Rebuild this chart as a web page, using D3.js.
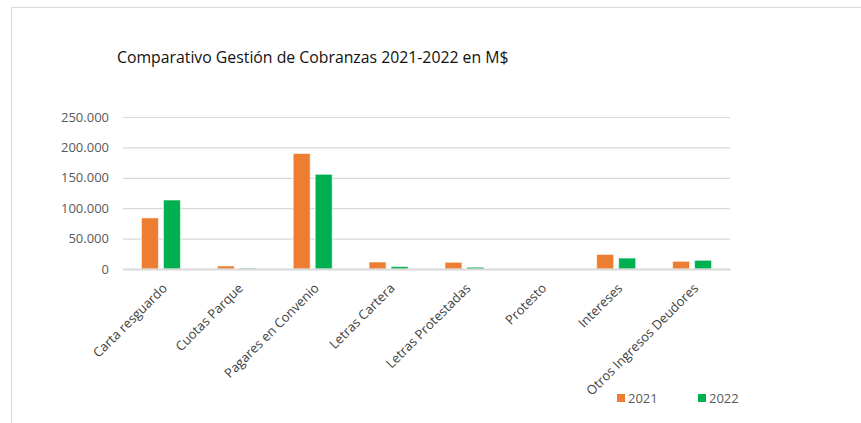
<!DOCTYPE html>
<html><head><meta charset="utf-8">
<script src="https://cdn.jsdelivr.net/npm/d3@7"></script>
<style>body{margin:0;background:#fff}svg{display:block;font-family:"Open Sans",sans-serif}</style>
</head><body><svg id="c" width="861" height="423"></svg>
<script>
const categories = ["Carta resguardo","Cuotas Parque","Pagares en Convenio","Letras Cartera","Letras Protestadas","Protesto","Intereses","Otros Ingresos Deudores"];
const series = ["2021","2022"];
const values2021 = [84000, 5000, 190000, 11500, 11000, 0, 24000, 12700];
const values2022 = [113500, 1500, 155800, 4000, 3000, 0, 18000, 14300];
const yTicks = [0, 50000, 100000, 150000, 200000, 250000];
const colors = ["#ED7D31", "#00B050"];
const title = "Comparativo Gestión de Cobranzas 2021-2022 en M$";

(function(){
const svg = d3.select("#c");
svg.append("path").attr("d","M11.5,423 V7.5 H861").attr("fill","none").attr("stroke","#d9d9d9").attr("stroke-width",1);

const mLeft = 123, mRight = 730, mTop = 117, mBottom = 269;
const x0 = d3.scaleBand().domain(categories).range([mLeft, mRight]);
const inner = 39;
const x1 = d3.scaleBand().domain(series).range([(x0.bandwidth()-inner)/2, (x0.bandwidth()+inner)/2]).paddingInner(5/22);
const y = d3.scaleLinear().domain([0, 250000]).range([mBottom, mTop]);
const fmt = v => d3.format(",")(v).replace(/,/g, ".");

svg.append("text").attr("x",117).attr("y",63).attr("font-size",15.8).attr("fill","#111").text(title);

const yAxis = svg.append("g").attr("transform",`translate(${mLeft},0)`)
  .call(d3.axisLeft(y).tickValues(yTicks).tickFormat(fmt).tickSize(-(mRight-mLeft)).tickPadding(14));
yAxis.select(".domain").remove();
yAxis.selectAll(".tick line").attr("stroke","#d9d9d9").attr("stroke-width",1.2);
yAxis.selectAll(".tick text").attr("fill","#595959").attr("font-size",13).attr("font-family","Open Sans");

const data = categories.map((c,i)=>({c, vals:[values2021[i], values2022[i]]}));
const g = svg.append("g");
data.forEach(d=>{
  d.vals.forEach((v,j)=>{
    if (v<=0) return;
    g.append("rect").attr("x", x0(d.c)+x1(series[j])).attr("width", x1.bandwidth())
      .attr("y", y(v)).attr("height", y(0)-y(v))
      .attr("fill", colors[j]).attr("stroke","#fff").attr("stroke-opacity",0.6).attr("stroke-width",1);
  });
});

const xAxis = svg.append("g").attr("transform",`translate(0,${mBottom})`)
  .call(d3.axisBottom(x0).tickSize(0).tickPadding(0));
xAxis.select(".domain").attr("stroke","#d9d9d9").attr("stroke-width",2);
xAxis.selectAll(".tick text").attr("fill","#404040").attr("font-size",13).attr("font-family","Open Sans")
  .attr("text-anchor","end").attr("dy",0).attr("y",0)
  .attr("transform","translate(7,20) rotate(-45)");

const legend = svg.append("g");
const lx = [617, 698];
series.forEach((s,j)=>{
  legend.append("rect").attr("x",lx[j]).attr("y",394).attr("width",8).attr("height",8).attr("fill",colors[j]);
  legend.append("text").attr("x",lx[j]+11).attr("y",402.5).attr("font-size",13).attr("fill","#595959").text(s);
});
})();
</script></body></html>
